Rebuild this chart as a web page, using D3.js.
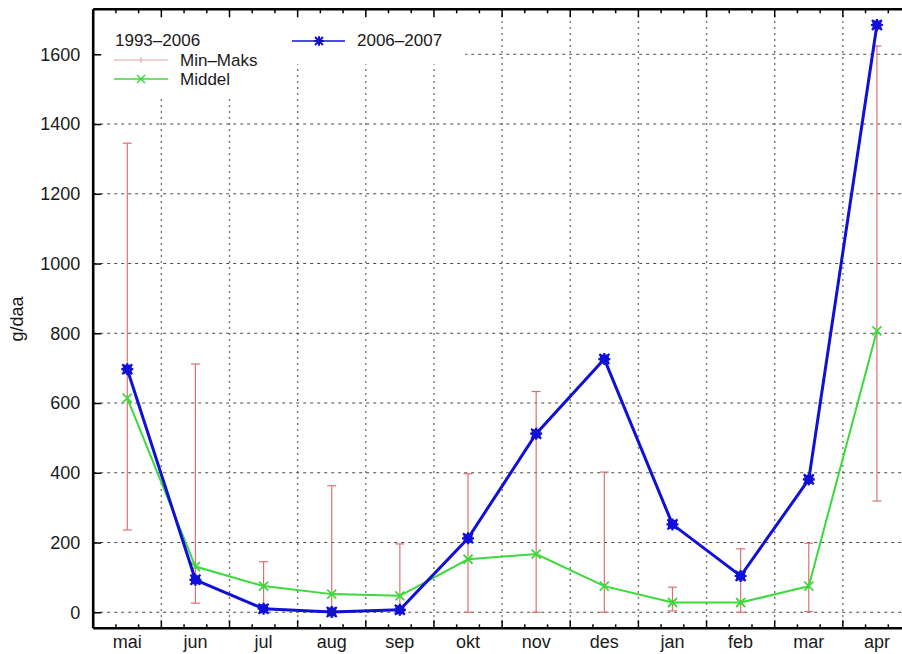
<!DOCTYPE html>
<html>
<head>
<meta charset="utf-8">
<script src="https://cdn.jsdelivr.net/npm/d3@7/dist/d3.min.js"></script>
<style>
  html, body { margin: 0; padding: 0; background: #fff; }
  svg { display: block; }
  text { font-family: "Liberation Sans", Arial, Helvetica, sans-serif; fill: #1a1a1a; }
</style>
</head>
<body>
<svg id="chart" width="902" height="654"></svg>
<script>
// Months of the season (May to April)
const months = ["mai", "jun", "jul", "aug", "sep", "okt", "nov", "des", "jan", "feb", "mar", "apr"];

// 1993–2006: minimum and maximum per month
const minValues = [236, 26, 3, 0, 2, 0, 0, 0, 4, 0, 2, 319];
const maxValues = [1345, 712, 145, 363, 196, 397, 633, 402, 72, 182, 198, 1624];

// 1993–2006: monthly mean
const meanValues = [614, 131, 75, 52, 47, 152, 167, 75, 28, 28, 75, 807];

// 2006–2007 season
const season0607 = [697, 93, 10, 1, 7, 212, 512, 726, 252, 104, 381, 1684];

// Y axis ticks
const yTicks = [0, 200, 400, 600, 800, 1000, 1200, 1400, 1600];

const svg = d3.select("#chart");
const W = 902, H = 654;
const plotLeft = 93.2, plotTop = 9.3, plotBottom = 628.3;
const monthWidth = 68.15;
const fontSize = 18;
const keyFont = 17;

const x = d3.scaleBand()
  .domain(months)
  .range([plotLeft, plotLeft + monthWidth * months.length])
  .padding(0);
const cx = m => x(m) + x.bandwidth() / 2;

const y = d3.scaleLinear()
  .domain([-46, 1729])
  .range([plotBottom, plotTop]);

const gridColor = "#4a4a4a";

// Horizontal dashed grid
svg.append("g").selectAll("line").data(yTicks).join("line")
  .attr("x1", plotLeft).attr("x2", W)
  .attr("y1", d => y(d)).attr("y2", d => y(d))
  .attr("stroke", gridColor).attr("stroke-width", 1)
  .attr("stroke-dasharray", "3,4");

// Vertical dotted grid at month boundaries
svg.append("g").selectAll("line").data(months.slice(1)).join("line")
  .attr("x1", d => x(d)).attr("x2", d => x(d))
  .attr("y1", plotTop).attr("y2", plotBottom)
  .attr("stroke", gridColor).attr("stroke-width", 1.4)
  .attr("stroke-dasharray", "1.4,4.6");

// Key background blanks the grid behind the legend
svg.append("rect").attr("x", plotLeft + 2).attr("y", plotTop + 2).attr("width", 140).attr("height", 87).attr("fill", "#fff");
svg.append("rect").attr("x", plotLeft + 140).attr("y", plotTop + 2).attr("width", 232).attr("height", 53).attr("fill", "#fff");

// Min–max error bars
const red = "#e07070";
const bars = svg.append("g");
months.forEach((m, i) => {
  const xc = cx(m);
  bars.append("line")
    .attr("x1", xc).attr("x2", xc)
    .attr("y1", y(minValues[i])).attr("y2", y(maxValues[i]))
    .attr("stroke", red).attr("stroke-width", 1.2);
  [minValues[i], maxValues[i]].forEach(v => {
    bars.append("line")
      .attr("x1", xc - 4.5).attr("x2", xc + 4.5)
      .attr("y1", y(v)).attr("y2", y(v))
      .attr("stroke", red).attr("stroke-width", 1.2);
  });
});

// Mean line
const green = "#3ada3a";
const line = d3.line().x((d, i) => cx(months[i])).y(d => y(d));
svg.append("path").datum(meanValues)
  .attr("d", line).attr("fill", "none")
  .attr("stroke", green).attr("stroke-width", 2);

function crossMarker(g, xc, yc, r, color, w) {
  g.append("path")
    .attr("d", `M${xc - r},${yc - r}L${xc + r},${yc + r}M${xc - r},${yc + r}L${xc + r},${yc - r}`)
    .attr("stroke", color).attr("stroke-width", w).attr("fill", "none");
}
function starMarker(g, xc, yc, r, color, w) {
  crossMarker(g, xc, yc, r, color, w);
  g.append("path")
    .attr("d", `M${xc - r * 1.2},${yc}L${xc + r * 1.2},${yc}M${xc},${yc - r * 1.2}L${xc},${yc + r * 1.2}`)
    .attr("stroke", color).attr("stroke-width", w).attr("fill", "none");
}

const meanMarks = svg.append("g");
meanValues.forEach((v, i) => crossMarker(meanMarks, cx(months[i]), y(v), 4.5, green, 1.8));

// 2006–2007 line
const blue = "#1010d8";
svg.append("path").datum(season0607)
  .attr("d", line).attr("fill", "none")
  .attr("stroke", blue).attr("stroke-width", 3);

const seasonMarks = svg.append("g");
season0607.forEach((v, i) => {
  const xc = cx(months[i]), yc = y(v);
  seasonMarks.append("rect")
    .attr("x", xc - 4.5).attr("y", yc - 4.5).attr("width", 9).attr("height", 9)
    .attr("fill", blue);
  starMarker(seasonMarks, xc, yc, 5, blue, 2.2);
});

// Frame: left, top and bottom borders
const frame = svg.append("g").attr("stroke", "#000").attr("stroke-width", 2.6);
frame.append("line").attr("x1", plotLeft).attr("x2", plotLeft).attr("y1", plotTop).attr("y2", plotBottom);
frame.append("line").attr("x1", plotLeft).attr("x2", W).attr("y1", plotTop).attr("y2", plotTop);
frame.append("line").attr("x1", plotLeft).attr("x2", W).attr("y1", plotBottom).attr("y2", plotBottom);

// Month ticks: major at boundaries, minor at thirds
const tickPos = [];
months.forEach(m => {
  for (let k = 0; k < 3; k++) tickPos.push({ x: x(m) + k * x.bandwidth() / 3, major: k === 0 });
});
const ticks = svg.append("g").attr("stroke", "#000").attr("stroke-width", 1.5);
tickPos.filter(t => t.x > plotLeft + 1 && t.x < W).forEach(t => {
  const len = t.major ? 8 : 4;
  ticks.append("line").attr("x1", t.x).attr("x2", t.x).attr("y1", plotBottom).attr("y2", plotBottom - len);
  ticks.append("line").attr("x1", t.x).attr("x2", t.x).attr("y1", plotTop).attr("y2", plotTop + len);
});

// Y axis ticks and labels
const yAxis = d3.axisLeft(y).tickValues(yTicks).tickSize(-8).tickPadding(13).tickFormat(d3.format("d"));
const gy = svg.append("g").attr("transform", `translate(${plotLeft},0)`).call(yAxis);
gy.attr("font-size", fontSize).attr("font-family", null);
gy.select(".domain").remove();
gy.selectAll(".tick line").attr("stroke", "#000").attr("stroke-width", 1.5);
gy.selectAll(".tick text").attr("fill", "#1a1a1a");

// Month labels
svg.append("g").selectAll("text").data(months).join("text")
  .attr("x", d => cx(d)).attr("y", 648)
  .attr("text-anchor", "middle").attr("font-size", fontSize)
  .text(d => d);

// Y axis title
svg.append("text")
  .attr("transform", "translate(23,319) rotate(-90)")
  .attr("text-anchor", "middle").attr("font-size", fontSize)
  .text("g/daa");

// Legend
const legend = svg.append("g");
legend.append("text").attr("x", 115).attr("y", 46).attr("font-size", keyFont).text("1993–2006");

legend.append("line").attr("x1", 114).attr("x2", 168).attr("y1", 60).attr("y2", 60)
  .attr("stroke", "#eaa4a4").attr("stroke-width", 1.2);
legend.append("line").attr("x1", 141).attr("x2", 141).attr("y1", 57).attr("y2", 63)
  .attr("stroke", "#eaa4a4").attr("stroke-width", 1.2);
legend.append("text").attr("x", 180).attr("y", 65.5).attr("font-size", keyFont).text("Min–Maks");

legend.append("line").attr("x1", 114).attr("x2", 168).attr("y1", 79).attr("y2", 79)
  .attr("stroke", green).attr("stroke-width", 1.5);
crossMarker(legend, 141, 79, 4, green, 1.5);
legend.append("text").attr("x", 180).attr("y", 85).attr("font-size", keyFont).text("Middel");

legend.append("line").attr("x1", 292).attr("x2", 345).attr("y1", 41).attr("y2", 41)
  .attr("stroke", blue).attr("stroke-width", 1.5);
starMarker(legend, 319, 41, 4, blue, 2);
legend.append("text").attr("x", 357).attr("y", 46).attr("font-size", keyFont).text("2006–2007");
</script>
</body>
</html>
